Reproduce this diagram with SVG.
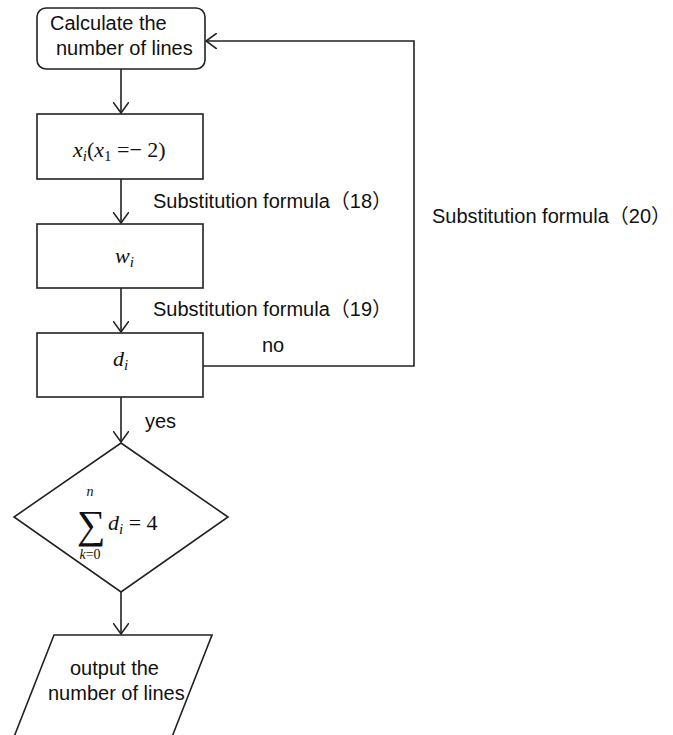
<svg xmlns="http://www.w3.org/2000/svg" width="673" height="735" viewBox="0 0 673 735">
<defs>
<style>
.box{fill:#fff;stroke:#222;stroke-width:1.6}
.ln{fill:none;stroke:#222;stroke-width:1.6}
.t{font-family:"Liberation Sans","Noto Sans CJK SC",sans-serif;font-size:20px;fill:#111}
.m{font-family:"Liberation Serif","DejaVu Serif",serif;font-style:italic;font-size:22px;fill:#111}
.mr{font-family:"Liberation Serif","DejaVu Serif",serif;font-style:normal;font-size:22px;fill:#111}
.sub{font-size:15px}
</style>
<marker id="ah" viewBox="0 0 12 16" refX="11" refY="8" markerWidth="12" markerHeight="16" markerUnits="userSpaceOnUse" orient="auto">
<path d="M0,0 L11,8 L0,16" fill="none" stroke="#222" stroke-width="1.6"/>
</marker>
</defs>
<rect width="673" height="735" fill="#fff"/>
<g id="connectors">
<line class="ln" x1="121" y1="69" x2="121" y2="113" marker-end="url(#ah)"/>
<line class="ln" x1="121" y1="179" x2="121" y2="223" marker-end="url(#ah)"/>
<line class="ln" x1="121" y1="288" x2="121" y2="332" marker-end="url(#ah)"/>
<line class="ln" x1="121" y1="397" x2="121" y2="442" marker-end="url(#ah)"/>
<line class="ln" x1="121" y1="592" x2="121" y2="634" marker-end="url(#ah)"/>
<polyline class="ln" points="203,366 414,366 414,41 206,41" marker-end="url(#ah)"/>
<text class="t" x="153" y="208">Substitution formula（18）</text>
<text class="t" x="153" y="316">Substitution formula（19）</text>
<text class="t" x="432" y="223">Substitution formula（20）</text>
<text class="t" x="262" y="352">no</text>
<text class="t" x="145" y="428">yes</text>
</g>
<g id="start">
<rect class="box" x="37" y="8" width="168" height="61" rx="9"/>
<text class="t" x="50" y="30">Calculate the</text>
<text class="t" x="56" y="55">number of lines</text>
</g>
<g id="xi">
<rect class="box" x="37" y="114" width="166" height="65"/>
<text class="m" x="73" y="157">x<tspan class="sub" dy="4">i</tspan><tspan class="mr" dy="-4">(</tspan>x<tspan class="sub" dy="4" style="font-style:normal">1</tspan><tspan class="mr" dy="-4"> =− 2)</tspan></text>
</g>
<g id="wi">
<rect class="box" x="37" y="224" width="166" height="64"/>
<text class="m" x="115" y="263">w<tspan class="sub" dy="4">i</tspan></text>
</g>
<g id="di">
<rect class="box" x="37" y="333" width="166" height="64"/>
<text class="m" x="113" y="366">d<tspan class="sub" dy="4">i</tspan></text>
</g>
<g id="decision">
<polygon class="box" points="121,443 228,517 121,592 14,517"/>
<text class="mr" x="91" y="538" style="font-size:40px" text-anchor="middle">∑</text>
<text class="m" x="90" y="496" style="font-size:14px" text-anchor="middle">n</text>
<text class="m" x="90" y="559" style="font-size:14px" text-anchor="middle">k<tspan style="font-style:normal">=0</tspan></text>
<text class="m" x="108" y="530">d<tspan class="sub" dy="4">i</tspan><tspan class="mr" dy="-4"> = 4</tspan></text>
</g>
<g id="output">
<polygon class="box" points="54,635 212,635 170,742 12,742"/>
<text class="t" x="70" y="675">output the</text>
<text class="t" x="48" y="700">number of lines</text>
</g>
</svg>
